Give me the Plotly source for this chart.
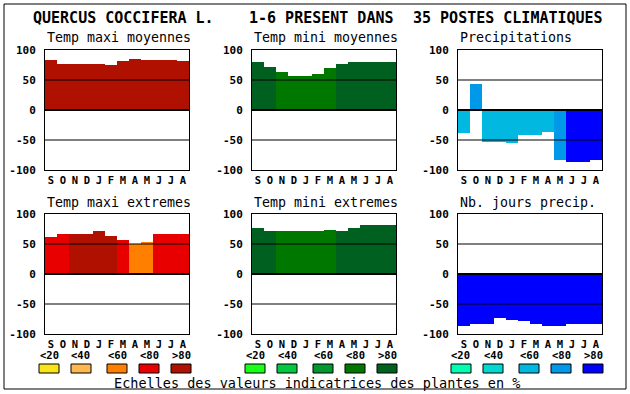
import plotly.graph_objects as go

W, H = 630, 394
months = ["S", "O", "N", "D", "J", "F", "M", "A", "M", "J", "J", "A"]
y_ticks = [-100, -50, 0, 50, 100]
class_labels = ["<20", "<40", "<60", "<80", ">80"]

tmax_moy = [83, 77, 77, 77, 77, 75, 82, 85, 83, 83, 83, 82]
tmax_moy_cls = [5, 5, 5, 5, 5, 5, 5, 5, 5, 5, 5, 5]
tmin_moy = [80, 72, 63, 57, 57, 60, 70, 77, 80, 80, 80, 80]
tmin_moy_cls = [5, 5, 4, 4, 4, 4, 4, 5, 5, 5, 5, 5]
precip = [-38, 44, -53, -53, -55, -42, -42, -36, -84, -87, -87, -84]
precip_cls = [3, 4, 3, 3, 3, 3, 3, 3, 4, 5, 5, 5]
tmax_ext = [61, 67, 67, 67, 71, 64, 57, 50, 54, 66, 67, 66]
tmax_ext_cls = [4, 4, 5, 5, 5, 5, 4, 3, 3, 4, 4, 4]
tmin_ext = [76, 71, 71, 71, 71, 71, 74, 72, 77, 81, 82, 81]
tmin_ext_cls = [5, 5, 4, 4, 4, 4, 4, 5, 5, 5, 5, 5]
jours = [-87, -84, -84, -74, -76, -78, -83, -86, -86, -84, -84, -84]
jours_cls = [5, 5, 5, 5, 5, 5, 5, 5, 5, 5, 5, 5]

reds = ["#F8E418", "#FFB850", "#FF8000", "#E80000", "#B01000"]
greens = ["#18FF18", "#00C840", "#009830", "#007800", "#006020"]
blues = ["#00FFB0", "#00D8D0", "#00B8E0", "#0098E8", "#0000FF"]

MONO = "DejaVu Sans Mono"

def px_x(p):
    return p / W

def px_y(p):
    return 1 - p / H

panels = [
    ("Temp maxi moyennes", tmax_moy, tmax_moy_cls, reds, 45, 50),
    ("Temp mini moyennes", tmin_moy, tmin_moy_cls, greens, 252, 50),
    ("Precipitations", precip, precip_cls, blues, 458, 50),
    ("Temp maxi extremes", tmax_ext, tmax_ext_cls, reds, 45, 214),
    ("Temp mini extremes", tmin_ext, tmin_ext_cls, greens, 252, 214),
    ("Nb. jours precip.", jours, jours_cls, blues, 458, 214),
]
PW, PH = 144, 120

fig = go.Figure()
shapes = []
annotations = []
layout = {}

for i, (title, vals, cls, pal, x0, y0) in enumerate(panels):
    n = i + 1
    sfx = "" if n == 1 else str(n)
    fig.add_trace(go.Bar(
        x=list(range(12)), y=vals, width=1,
        marker=dict(color=[pal[c - 1] for c in cls], line=dict(width=0)),
        xaxis="x" + sfx, yaxis="y" + sfx, showlegend=False, hoverinfo="skip",
    ))
    layout["xaxis" + sfx] = dict(
        domain=[px_x(x0), px_x(x0 + PW)], anchor="y" + sfx,
        range=[-0.5, 11.5], tickvals=list(range(12)), ticktext=months,
        showline=True, mirror=True, linecolor="black", linewidth=1,
        showgrid=False, zeroline=False, ticks="", ticklabelstandoff=0,
        tickfont=dict(family=MONO, size=10.5, color="black", weight="bold"),
        layer="above traces", fixedrange=True, automargin=False,
    )
    layout["yaxis" + sfx] = dict(
        domain=[px_y(y0 + PH), px_y(y0)], anchor="x" + sfx,
        range=[-100, 100], tickvals=y_ticks, ticktext=[str(v) for v in y_ticks],
        showline=True, mirror=True, linecolor="black", linewidth=1,
        showgrid=False, zeroline=False, ticks="", ticklabelstandoff=6,
        tickfont=dict(family=MONO, size=11, color="black", weight="bold"),
        layer="above traces", fixedrange=True, automargin=False,
    )
    for v, lw in ((50, 1), (0, 2), (-50, 1)):
        shapes.append(dict(type="line", xref="x%s domain" % sfx, yref="y" + sfx,
                           x0=0, x1=1, y0=v, y1=v, layer="above",
                           line=dict(color="black", width=lw)))
    annotations.append(dict(
        text=title, xref="paper", yref="paper", x=px_x(x0), y=px_y(y0 - 12),
        xanchor="left", yanchor="middle", showarrow=False,
        font=dict(family=MONO, size=13.3, color="black"),
    ))

# main title
for txt, xp in (("QUERCUS COCCIFERA L.", 31), ("1-6 PRESENT DANS", 247),
                 ("35 POSTES CLIMATIQUES", 411)):
    annotations.append(dict(
        text=txt, xref="paper", yref="paper", x=px_x(xp), y=px_y(18),
        xanchor="left", yanchor="middle", showarrow=False,
        font=dict(family=MONO, size=15, color="black", weight="bold"),
    ))

# legend scales
group_starts = [39, 245, 451]
swatch_offsets = [0, 32, 68, 100, 132]
for pal, gx in zip([reds, greens, blues], group_starts):
    for k, (col, lab) in enumerate(zip(pal, class_labels)):
        sx = gx + swatch_offsets[k]
        shapes.append(dict(type="rect", xref="paper", yref="paper",
                           x0=px_x(sx), x1=px_x(sx + 20), y0=px_y(373), y1=px_y(364),
                           fillcolor=col, line=dict(color="black", width=1)))
        annotations.append(dict(
            text=lab, xref="paper", yref="paper", x=px_x(sx + 10), y=px_y(355),
            xanchor="center", yanchor="middle", showarrow=False,
            font=dict(family=MONO, size=10.5, color="black", weight="bold"),
        ))

annotations.append(dict(
    text="Echelles des valeurs indicatrices des plantes en %",
    xref="paper", yref="paper", x=px_x(317), y=px_y(383),
    xanchor="center", yanchor="middle", showarrow=False,
    font=dict(family=MONO, size=13.5, color="black"),
))

# outer frame
shapes.append(dict(type="rect", xref="paper", yref="paper",
                   x0=px_x(4), x1=px_x(626), y0=px_y(389), y1=px_y(4),
                   line=dict(color="black", width=1), fillcolor="rgba(0,0,0,0)"))

fig.update_layout(
    width=W, height=H, autosize=False,
    margin=dict(l=0, r=0, t=0, b=0, pad=0, autoexpand=False),
    paper_bgcolor="white", plot_bgcolor="white",
    bargap=0, showlegend=False,
    shapes=shapes, annotations=annotations,
    **layout,
)

fig.write_html(
    "out.html",
    config={"displayModeBar": False},
    post_script=(
        "var s=document.createElement('style');"
        "s.textContent='html,body{margin:0;padding:0;overflow:hidden;}';"
        "document.head.appendChild(s);"
    ),
)
